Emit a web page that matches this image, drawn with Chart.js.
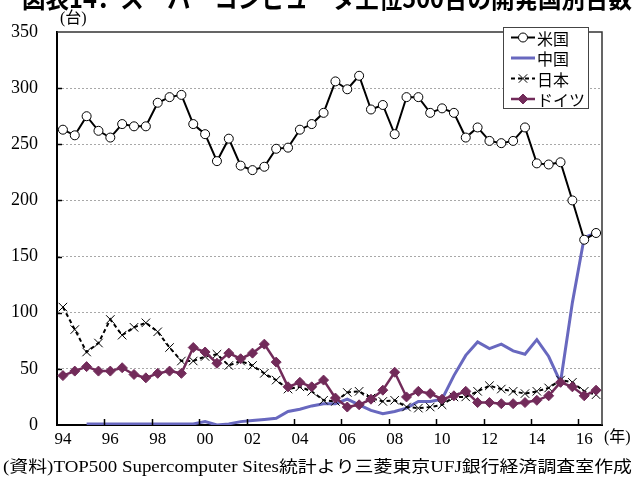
<!DOCTYPE html>
<html><head><meta charset="utf-8">
<script src="https://cdn.jsdelivr.net/npm/chart.js@4/dist/chart.umd.min.js"></script>
<style>html,body{margin:0;padding:0;background:#fff;overflow:hidden}#wrap{position:relative;width:637px;height:479px}</style>
</head><body><div id="wrap"><canvas id="c" width="637" height="479"></canvas></div>
<script>
const categories = ['94/6','94/11','95/6','95/11','96/6','96/11','97/6','97/11','98/6','98/11','99/6','99/11','00/6','00/11','01/6','01/11','02/6','02/11','03/6','03/11','04/6','04/11','05/6','05/11','06/6','06/11','07/6','07/11','08/6','08/11','09/6','09/11','10/6','10/11','11/6','11/11','12/6','12/11','13/6','13/11','14/6','14/11','15/6','15/11','16/6','16/11'];
const tickLabels = ['94','96','98','00','02','04','06','08','10','12','14','16'];
const usa = [263,258,275,262,256,268,266,266,287,292,294,268,259,235,255,231,227,230,246,247,263,268,278,306,299,311,281,285,259,292,292,278,282,278,256,265,253,251,253,265,233,232,234,200,165,171];
const china = [null,null,1,1,1,1,1,1,1,1,1,1,3,0,1,3,4,5,6,12,14,17,19,19,23,18,13,10,12,15,21,21,23,44,62,74,68,72,66,63,76,61,38,109,167,171];
const japan = [105,85,65,73,94,80,87,91,83,69,57,57,61,63,53,57,53,46,40,32,34,30,22,21,29,30,24,21,22,16,15,16,18,25,25,30,35,32,30,28,30,33,40,38,30,27];
const germany = [44,48,52,48,48,51,45,42,46,48,46,69,65,55,64,59,64,72,56,34,38,34,40,24,16,18,23,31,47,25,30,28,23,26,30,20,20,19,19,20,22,26,38,34,26,31];
const seriesNames = ['米国','中国','日本','ドイツ'];
const titleText = '図表14．スーパーコンピュータ上位500台の開発国別台数';
const unitY = '(台)';
const unitX = '(年)';
const sourceText = '(資料)TOP500 Supercomputer Sites統計より三菱東京UFJ銀行経済調査室作成';

const SERIF = '"Liberation Serif", "Noto Sans CJK JP", serif';
const CJK = '"Noto Sans CJK JP", sans-serif';
const C_US = '#000000', C_CN = '#6868BF', C_JP = '#000000', C_DE = '#722B5A';

function marker(ctx, style, x, y, color) {
  ctx.save();
  ctx.lineWidth = 1;
  ctx.strokeStyle = color; ctx.fillStyle = color;
  ctx.setLineDash([]);
  ctx.beginPath();
  if (style === 'circle') {
    ctx.fillStyle = '#fff';
    ctx.arc(x, y, 4.5, 0, Math.PI * 2); ctx.fill(); ctx.stroke();
  } else if (style === 'cross') {
    const d = 4.2;
    ctx.moveTo(x - d, y - d); ctx.lineTo(x + d, y + d);
    ctx.moveTo(x - d, y + d); ctx.lineTo(x + d, y - d); ctx.stroke();
  } else if (style === 'diamond') {
    const r = 5;
    ctx.moveTo(x - r, y); ctx.lineTo(x, y - r); ctx.lineTo(x + r, y); ctx.lineTo(x, y + r);
    ctx.closePath(); ctx.fill(); ctx.stroke();
  }
  ctx.restore();
}

function fitText(ctx, text, x, y, width) {
  const w = ctx.measureText(text).width;
  ctx.save();
  ctx.translate(x, y);
  ctx.scale(width / w, 1);
  ctx.fillText(text, 0, 0);
  ctx.restore();
}

const decor = {
  id: 'decor',
  afterDraw(chart) {
    const ctx = chart.ctx;
    const a = chart.chartArea;
    const xs = chart.scales.x, ys = chart.scales.y;
    ctx.save();
    ctx.strokeStyle = '#333'; ctx.lineWidth = 1.5;
    ctx.beginPath(); ctx.moveTo(a.left, a.top); ctx.lineTo(a.right, a.top); ctx.lineTo(a.right, a.bottom); ctx.stroke();
    ctx.strokeStyle = '#000'; ctx.lineWidth = 1.5;
    for (let i = 4; i < categories.length; i += 4) {
      const x = Math.round((xs.getPixelForValue(i - 1) + xs.getPixelForValue(i)) / 2) + 0.5;
      ctx.beginPath(); ctx.moveTo(x, a.bottom); ctx.lineTo(x, a.bottom - 6); ctx.stroke();
    }
    for (let v = 50; v <= 300; v += 50) {
      const y = Math.round(ys.getPixelForValue(v)) + 0.5;
      ctx.beginPath(); ctx.moveTo(a.left, y); ctx.lineTo(a.left + 5, y); ctx.stroke();
    }
    const lx = 503, ly = 27, lw = 85, lh = 81;
    ctx.fillStyle = '#fff'; ctx.fillRect(lx, ly, lw, lh);
    ctx.strokeStyle = '#444'; ctx.lineWidth = 1;
    ctx.strokeRect(lx + 0.5, ly + 0.5, lw, lh);
    const rows = [
      {c: C_US, w: 2, dash: [], m: 'circle'},
      {c: C_CN, w: 3, dash: [], m: null},
      {c: C_JP, w: 2, dash: [4, 3], m: 'cross'},
      {c: C_DE, w: 2.5, dash: [], m: 'diamond'}
    ];
    ctx.font = '16px ' + CJK;
    ctx.textBaseline = 'middle'; ctx.textAlign = 'left';
    rows.forEach((r, k) => {
      const y = 37.5 + k * 20.5;
      ctx.save();
      ctx.strokeStyle = r.c; ctx.lineWidth = r.w; ctx.setLineDash(r.dash);
      ctx.beginPath(); ctx.moveTo(511, y); ctx.lineTo(535, y); ctx.stroke();
      ctx.restore();
      if (r.m) marker(ctx, r.m, 523, y, r.c);
      ctx.fillStyle = '#000';
      ctx.fillText(seriesNames[k], 537, y + 1);
    });
    ctx.fillStyle = '#000';
    ctx.font = '16px ' + SERIF;
    ctx.textBaseline = 'middle';
    ctx.fillText(unitY, 60, 19);
    ctx.fillText(unitX, 604, 438);
    ctx.font = '16px ' + SERIF;
    fitText(ctx, sourceText, 3, 468, 629);
    ctx.font = 'bold 26px ' + CJK;
    ctx.textBaseline = 'alphabetic';
    fitText(ctx, titleText, 22, 8, 610);
    ctx.restore();
  }
};

new Chart(document.getElementById('c'), {
  type: 'line',
  data: {
    labels: categories,
    datasets: [
      {label: seriesNames[0], data: usa, borderColor: C_US, borderWidth: 2, pointStyle: 'circle', pointRadius: 4.5, pointBackgroundColor: '#fff', pointBorderColor: C_US, pointBorderWidth: 1, order: 1},
      {label: seriesNames[1], data: china, borderColor: C_CN, borderWidth: 3, pointRadius: 0, order: 3},
      {label: seriesNames[2], data: japan, borderColor: C_JP, borderWidth: 2, borderDash: [4, 3], pointStyle: 'crossRot', pointRadius: 6, pointBorderWidth: 1, pointBorderColor: C_JP, order: 2},
      {label: seriesNames[3], data: germany, borderColor: C_DE, borderWidth: 2.5, pointStyle: 'rectRot', pointRadius: 5, pointBackgroundColor: C_DE, pointBorderColor: C_DE, pointBorderWidth: 1, order: 0}
    ]
  },
  options: {
    responsive: false, animation: false, devicePixelRatio: 1,
    layout: {padding: {top: 32, right: 35, left: 0, bottom: 0}},
    plugins: {legend: {display: false}, tooltip: {enabled: false}, title: {display: false}},
    elements: {line: {tension: 0}},
    scales: {
      x: {
        type: 'category', offset: true,
        grid: {display: false, drawTicks: false},
        border: {display: true, color: '#000', width: 2},
        ticks: {autoSkip: false, maxRotation: 0, minRotation: 0, padding: 4, color: '#000',
          font: {family: SERIF, size: 17},
          callback: (v, i) => (i % 4 === 0 ? tickLabels[i / 4] : '')},
        afterFit: s => { s.height = 54; }
      },
      y: {
        min: 0, max: 350,
        ticks: {stepSize: 50, padding: 19, color: '#000', font: {family: SERIF, size: 18}},
        grid: {drawTicks: false, lineWidth: 1,
          color: c => (c.tick && (c.tick.value === 0 || c.tick.value === 350)) ? 'rgba(0,0,0,0)' : '#a8a8a8'},
        border: {display: true, color: '#000', width: 2, dash: [2, 2]},
        afterFit: s => { s.width = 57; }
      }
    }
  },
  plugins: [decor]
});
</script></body></html>
